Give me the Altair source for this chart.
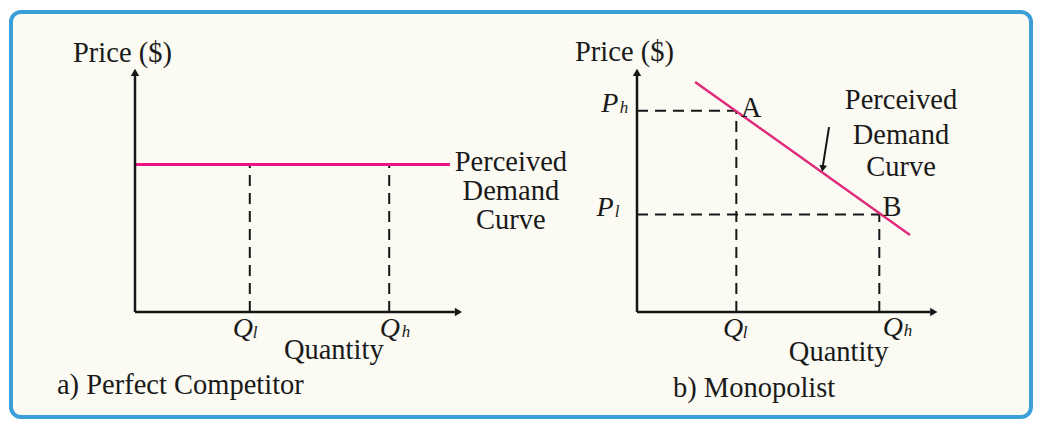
import altair as alt
import pandas as pd

# ---------------- diagram values (in each panel's own quantity / price units) ----------------
# Panel a: perfect competitor
A_Q_LOW = 3.5
A_Q_HIGH = 7.75
A_PRICE = 6.05
A_DEMAND_Q = [0.0, 9.6]

# Panel b: monopolist
B_Q_LOW = 3.3
B_Q_HIGH = 8.05
B_P_HIGH = 8.25
B_P_LOW = 4.0
B_DEMAND_Q = [1.93, 9.07]
B_DEMAND_P = [9.43, 3.16]

AXIS_MAX = 10.0

# ---------------- layout (panel origin and unit size on the page) ----------------
PANEL = {
    "a": dict(ox=135, oy=312, sx=32.8, sy=24.4),
    "b": dict(ox=637, oy=312, sx=30.1, sy=24.4),
}
PLOT_LEFT, PLOT_BOTTOM = 11, 417
W, H = 1020, 405


def gx(panel, q):
    return PANEL[panel]["ox"] - PLOT_LEFT + q * PANEL[panel]["sx"]


def gy(panel, p):
    return PLOT_BOTTOM - PANEL[panel]["oy"] + p * PANEL[panel]["sy"]


def seg(panel, q1, p1, q2, p2):
    return dict(x=gx(panel, q1), y=gy(panel, p1), x2=gx(panel, q2), y2=gy(panel, p2))


xs = alt.Scale(domain=[0, W], nice=False, zero=False)
ys = alt.Scale(domain=[0, H], nice=False, zero=False)


def rule_layer(rows, **mark):
    df = pd.DataFrame(rows)
    return alt.Chart(df).mark_rule(**mark).encode(
        x=alt.X("x:Q", scale=xs, axis=None),
        y=alt.Y("y:Q", scale=ys, axis=None),
        x2="x2:Q",
        y2="y2:Q",
    )


# axes (solid black)
axes_rows = []
for pn in ["a", "b"]:
    axes_rows.append(seg(pn, 0, 0, AXIS_MAX - 0.25, 0))
    axes_rows.append(seg(pn, 0, 0, 0, AXIS_MAX - 0.3))
axes = rule_layer(axes_rows, color="#161616", strokeWidth=2.5)

# dashed guide lines
dash_rows = [
    seg("a", A_Q_LOW, 0, A_Q_LOW, A_PRICE),
    seg("a", A_Q_HIGH, 0, A_Q_HIGH, A_PRICE),
    seg("b", 0, B_P_HIGH, B_Q_LOW, B_P_HIGH),
    seg("b", B_Q_LOW, 0, B_Q_LOW, B_P_HIGH),
    seg("b", 0, B_P_LOW, B_Q_HIGH, B_P_LOW),
    seg("b", B_Q_HIGH, 0, B_Q_HIGH, B_P_LOW),
]
dashes = rule_layer(dash_rows, color="#161616", strokeWidth=2, strokeDash=[11, 7])

# perceived demand curves
demand_a = rule_layer([seg("a", A_DEMAND_Q[0], A_PRICE, A_DEMAND_Q[1], A_PRICE)],
                      color="#ec1386", strokeWidth=3)
demand_b = rule_layer([seg("b", B_DEMAND_Q[0], B_DEMAND_P[0], B_DEMAND_Q[1], B_DEMAND_P[1])],
                      color="#e02a7c", strokeWidth=2.5)

# pointer arrow shaft (panel b)
pointer = rule_layer([seg("b", 6.38, 7.58, 6.17, 5.95)], color="#161616", strokeWidth=2)


def point_layer(rows, shape, angle=0, size=70):
    df = pd.DataFrame(rows)
    return alt.Chart(df).mark_point(shape=shape, filled=True, color="#161616", opacity=1,
                                    size=size, angle=angle).encode(
        x=alt.X("x:Q", scale=xs, axis=None),
        y=alt.Y("y:Q", scale=ys, axis=None),
    )


heads_right = point_layer([dict(x=gx(pn, AXIS_MAX - 0.14), y=gy(pn, 0)) for pn in ["a", "b"]],
                          "triangle-right")
heads_up = point_layer([dict(x=gx(pn, 0), y=gy(pn, AXIS_MAX - 0.18)) for pn in ["a", "b"]],
                       "triangle-up")
head_ptr = point_layer([dict(x=gx("b", 6.17), y=gy("b", 5.88))], "triangle-down", angle=8.7, size=60)

# ---------------- text ----------------
FONT = "Liberation Serif"
INK = "#1a1a1a"

left_texts = [
    ("a", -1.89, 10.61, "Price ($)"),
    ("a", -2.38, -2.99, "a) Perfect Competitor"),
    ("b", -2.06, 10.66, "Price ($)"),
]
center_texts = [
    ("a", 11.46, 6.15, "Perceived"),
    ("a", 11.46, 4.96, "Demand"),
    ("a", 11.46, 3.77, "Curve"),
    ("a", 6.06, -1.56, "Quantity"),
    ("b", 8.77, 8.69, "Perceived"),
    ("b", 8.77, 7.25, "Demand"),
    ("b", 8.77, 5.94, "Curve"),
    ("b", 3.79, 8.36, "A"),
    ("b", 8.47, 4.30, "B"),
    ("b", 6.70, -1.62, "Quantity"),
    ("b", 3.89, -3.11, "b) Monopolist"),
]
italic_main = [
    ("a", 3.29, -0.70, "Q"),
    ("a", 7.77, -0.70, "Q"),
    ("b", 3.19, -0.70, "Q"),
    ("b", 8.50, -0.64, "Q"),
    ("b", -0.90, 8.52, "P"),
    ("b", -1.06, 4.26, "P"),
]
italic_sub = [
    ("a", 3.66, -0.88, "l"),
    ("a", 8.26, -0.82, "h"),
    ("b", 3.59, -0.88, "l"),
    ("b", 9.00, -0.76, "h"),
    ("b", -0.43, 8.36, "h"),
    ("b", -0.66, 4.10, "l"),
]


def text_layer(items, align, size, style="normal"):
    df = pd.DataFrame([dict(x=gx(pn, q), y=gy(pn, p), t=t) for pn, q, p, t in items])
    return alt.Chart(df).mark_text(align=align, baseline="middle", font=FONT, fontSize=size,
                                   fontStyle=style, color=INK).encode(
        x=alt.X("x:Q", scale=xs, axis=None),
        y=alt.Y("y:Q", scale=ys, axis=None),
        text="t:N",
    )


texts = [
    text_layer(left_texts, "left", 28.5),
    text_layer(center_texts, "center", 28.5),
    text_layer(italic_main, "center", 28, "italic"),
    text_layer(italic_sub, "center", 17, "italic"),
]

chart = alt.layer(
    dashes, demand_a, demand_b, axes, pointer, heads_right, heads_up, head_ptr, *texts
).properties(
    width=1026,
    height=411,
    padding={"left": 3, "right": 3, "top": 4, "bottom": 2},
    autosize=alt.AutoSizeParams(type="fit", contains="padding"),
    background="#ffffff",
).configure_view(
    stroke="#3b9fd9",
    strokeWidth=4,
    cornerRadius=10,
    fill="#fcfbf3",
)

chart.save("out.html", embed_options={"renderer": "svg", "actions": False})
